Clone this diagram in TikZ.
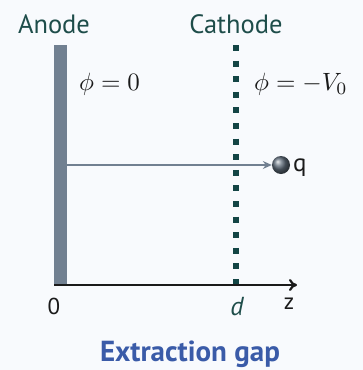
\documentclass[tikz,border=0pt]{standalone}
\usepackage{graphicx}
\usepackage{fontspec}
\setmainfont{PT Sans}
\usetikzlibrary{arrows.meta}
\definecolor{bgcol}{HTML}{F8FAFD}
\definecolor{anodecol}{HTML}{718091}
\definecolor{cathcol}{HTML}{134545}
\definecolor{labcol}{HTML}{1E4D4A}
\definecolor{titlecol}{HTML}{3A5BA8}
\definecolor{inkcol}{HTML}{1A1A1A}
\newcommand{\bigmath}[1]{\scalebox{2.5}{$#1$}}
\tikzset{
  lbl/.style={inner sep=0pt, anchor=base, font=\fontsize{26.5}{30}\selectfont, text=labcol},
  mathlbl/.style={inner sep=0pt, anchor=base west, text=inkcol},
  axlbl/.style={inner sep=0pt, anchor=base, font=\fontsize{23}{26}\selectfont, text=inkcol},
}
\begin{document}
\begin{tikzpicture}[x=1pt,y=-1pt]
\fill[bgcol] (0,0) rectangle (363,370);
\useasboundingbox (0,0) rectangle (363,370);
% anode plate
\node[fill=anodecol, minimum width=13pt, minimum height=240pt, inner sep=0pt, outer sep=0pt, anchor=north west] (anodebar) at (54,45) {};
% cathode grid
\coordinate (cattop) at (236,45);
\coordinate (catbot) at (236,285);
\draw[cathcol, line width=6.5pt, dash pattern=on 6pt off 9.6pt] (cattop) -- (catbot);
% labels
\node[lbl] (anode) at (54,33) {Anode};
\node[lbl] (cathode) at (236,33) {Cathode};
\node[mathlbl] (phia) at (79,90.5) {\bigmath{\phi = 0}};
\node[mathlbl] (phic) at (254,90.5) {\bigmath{\phi = -V_0}};
% charge
\node[circle, minimum size=18pt, inner sep=0pt, ball color=anodecol!85!black] (ball) at (281,165) {};
\node[inner sep=0pt, anchor=base west, font=\fontsize{25}{28}\selectfont, text=inkcol] (q) at (293,171) {q};
\draw[anodecol, line width=1.3pt, -{Stealth[length=9pt, width=8pt, inset=3pt]}] (anodebar.east |- ball.west) -- (ball.west);
% axis
\coordinate (axend) at (297,285);
\draw[inkcol, line width=2.2pt, -{Computer Modern Rightarrow[length=8pt, width=12pt]}] (anodebar.south west) -- (axend);
\node[axlbl] (zero) at (54,314) {0};
\node[axlbl, text=labcol, font=\fontsize{26}{28}\selectfont\itshape] (dee) at (237,315) {d};
\node[axlbl] (zee) at (289,309.5) {z};
% caption
\node[inner sep=0pt, anchor=base, font=\fontsize{29}{32}\selectfont\bfseries, text=titlecol] (title) at (190,361) {Extraction gap};
\end{tikzpicture}
\end{document}
